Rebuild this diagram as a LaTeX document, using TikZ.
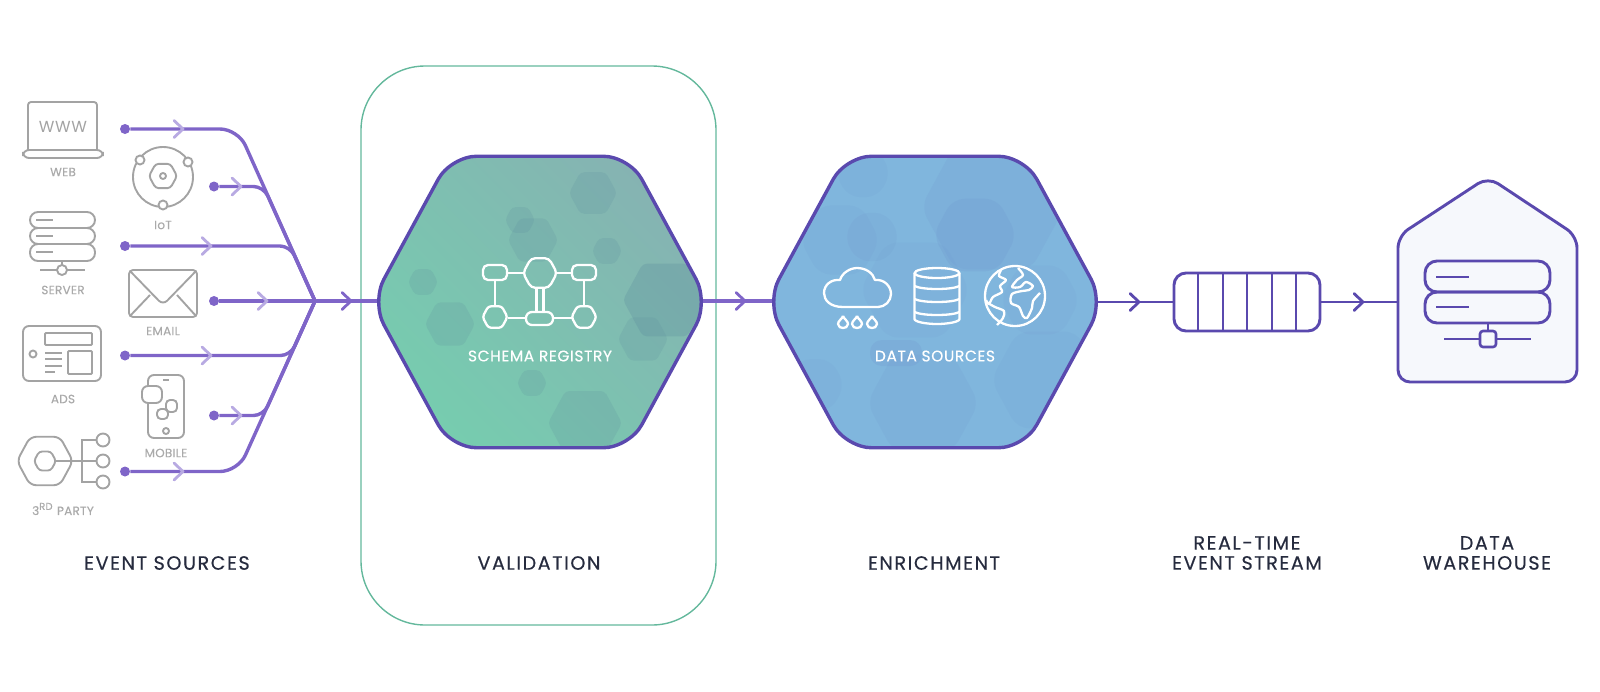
\documentclass[tikz,border=0pt]{standalone}
\usepackage{fontspec}
\setmainfont{Poppins}
\usetikzlibrary{positioning}
\definecolor{evline}{HTML}{7F65C8}
\definecolor{evtip}{HTML}{B8AAE2}
\definecolor{deep}{HTML}{5A49AE}
\definecolor{icon}{HTML}{A3A3A3}
\definecolor{icontxt}{HTML}{AAAAAA}
\definecolor{ink}{HTML}{262B3E}
\definecolor{frame}{HTML}{64B89C}
\definecolor{greenlo}{HTML}{76CDAF}
\definecolor{greenhi}{HTML}{86B2B2}
\definecolor{bluefill}{HTML}{80B6DD}
\definecolor{bluedark}{HTML}{6C8FCB}
\definecolor{greendark}{HTML}{5E8F9E}
\definecolor{housefill}{HTML}{F6F8FC}
\newcommand{\hexshape}[3]% center x, center y, half width
{({#1-#3},#2) -- ({#1-.53*#3},{#2-.865*#3}) -- ({#1+.53*#3},{#2-.865*#3}) --
({#1+#3},#2) -- ({#1+.53*#3},{#2+.865*#3}) -- ({#1-.53*#3},{#2+.865*#3}) -- cycle
}
\newcommand{\chevron}[3]% x, y, colour
{\draw[#3,line width=1.4pt,line cap=round,line join=round]
({#1-6},{#2-8.5}) -- ({#1+3},#2) -- ({#1-6},{#2+8.5});
}
\newcommand{\raindrop}[2]% x, y
{\draw[wline] (#1,{#2-6}) .. controls ({#1+1},{#2-3}) and ({#1+5},{#2-1}) .. ({#1+5},{#2+2})
.. controls ({#1+5},{#2+5}) and ({#1+2},{#2+6}) .. (#1,{#2+6})
.. controls ({#1-2},{#2+6}) and ({#1-5},{#2+5}) .. ({#1-5},{#2+2})
.. controls ({#1-5},{#2-1}) and ({#1-1},{#2-3}) .. (#1,{#2-6});
}

\begin{document}
\begin{tikzpicture}[x=.5pt,y=-.5pt]
\tikzstyle{dot}=[shape=circle,fill=evline,minimum size=5pt,inner sep=0pt]
\tikzstyle{evpath}=[evline,line width=1.7pt]
\tikzstyle{gline}=[icon,line width=.95pt,rounded corners=1.5pt]
\tikzstyle{wline}=[white,line width=1.15pt,line join=round]
\tikzstyle{dline}=[deep,line width=1.7pt]
\tikzstyle{linkline}=[deep,line width=1.45pt]
\tikzstyle{small}=[icontxt,font=\fontsize{6}{7}\selectfont\addfontfeature{LetterSpace=2,FakeBold=.3}]
\tikzstyle{inner}=[white,font=\fontsize{7.7}{9}\selectfont\addfontfeature{LetterSpace=4,FakeBold=.3}]
\tikzstyle{title}=[ink,align=center,font=\fontsize{9.6}{10}\selectfont\addfontfeature{LetterSpace=8,FakeBold=.35}]
\useasboundingbox (0,0) rectangle (1600,691);

% frame round the middle step
\draw[frame,line width=.7pt,rounded corners=32pt] (361,66) rectangle (716,625);

% junction and the lines into it
\coordinate (join) at (315,301);
\draw (125,129) node[dot] (web) {};
\draw (214,186.5) node[dot] (iot) {};
\draw (125,246) node[dot] (server) {};
\draw (214,301) node[dot] (email) {};
\draw (125,355.5) node[dot] (ads) {};
\draw (214,415.5) node[dot] (mobile) {};
\draw (125,471.5) node[dot] (party) {};
\coordinate (c1) at (238,129);
\coordinate (c2) at (263.5,186.5);
\coordinate (c3) at (290,246);
\coordinate (c5) at (290.5,355.5);
\coordinate (c6) at (263.5,415.5);
\coordinate (c7) at (238,471.5);
\draw[evpath,rounded corners=9pt] (web) -- (c1) -- (join);
\draw[evpath,rounded corners=5pt] (iot) -- (c2) -- (join);
\draw[evpath,rounded corners=5pt] (server) -- (c3) -- (join);
\draw[evpath] (email) -- (join);
\draw[evpath,rounded corners=5pt] (ads) -- (c5) -- (join);
\draw[evpath,rounded corners=5pt] (mobile) -- (c6) -- (join);
\draw[evpath,rounded corners=9pt] (party) -- (c7) -- (join);
\chevron{180}{129}{evtip}
\chevron{238}{186.5}{evtip}
\chevron{208}{246}{evtip}
\chevron{264}{301}{evtip}
\chevron{208}{355.5}{evtip}
\chevron{238}{415.5}{evtip}
\chevron{180}{471.5}{evtip}

% links between the steps
\coordinate (regwest) at (378,301);
\coordinate (regeast) at (703,301);
\coordinate (srcwest) at (773,301);
\coordinate (srceast) at (1097,302);
\coordinate (housewest) at (1398,302);
\draw[evpath] (join) -- (regwest);
\draw[evpath] (regeast) -- (srcwest);
\chevron{348}{301}{evline}
\chevron{742}{301}{evline}

% schema registry hexagon
\begin{scope}
\clip[rounded corners=13pt] \hexshape{540}{302}{168.5};
\shade[left color=greenlo,right color=greenhi,shading angle=135] (360,140) rectangle (720,460);
\begin{scope}[rounded corners=2pt]
\fill[greendark,opacity=.2] \hexshape{593}{193}{24};
\fill[greendark,opacity=.2] \hexshape{520}{220}{15};
\fill[greendark,opacity=.2] \hexshape{533}{240}{25};
\fill[greendark,opacity=.2] \hexshape{607}{251}{15};
\fill[greendark,opacity=.2] \hexshape{423}{282}{15};
\fill[greendark,opacity=.2] \hexshape{450}{324}{25};
\fill[greendark,opacity=.3] \hexshape{665}{300}{42};
\fill[greendark,opacity=.2] \hexshape{643}{339}{25};
\fill[greendark,opacity=.2] \hexshape{532}{383}{15};
\fill[greendark,opacity=.2] \hexshape{585}{423}{37};
\end{scope}
\end{scope}
\draw[dline,rounded corners=13pt] \hexshape{540}{302}{168.5};

% data sources hexagon
\begin{scope}
\clip[rounded corners=13pt] \hexshape{935}{302}{168.5};
\fill[bluefill] (760,140) rectangle (1110,460);
\begin{scope}[rounded corners=6pt]
\fill[bluedark,opacity=.1] \hexshape{863}{173}{28};
\fill[bluedark,opacity=.14] \hexshape{993}{207}{72};
\fill[bluedark,opacity=.18] \hexshape{975}{235}{42};
\fill[bluedark,opacity=.12] \hexshape{872}{237}{28};
\fill[bluedark,opacity=.1] \hexshape{840}{240}{40};
\fill[bluedark,opacity=.08] \hexshape{915}{290}{55};
\fill[bluedark,opacity=.08] \hexshape{1040}{300}{40};
\fill[bluedark,opacity=.2] (870,340) rectangle (922,366);
\fill[bluedark,opacity=.12] \hexshape{923}{403}{56};
\fill[bluedark,opacity=.1] \hexshape{1047}{380}{56};
\fill[bluedark,opacity=.08] \hexshape{815}{385}{30};
\end{scope}
\end{scope}
\draw[dline,rounded corners=13pt] \hexshape{935}{302}{168.5};

% schema icon
\draw[wline,rounded corners=2.5pt] (483,265) rectangle (507,280);
\draw[wline,rounded corners=2pt] \hexshape{540}{273}{17};
\draw[wline,rounded corners=2.5pt] (572,265) rectangle (596,280);
\draw[wline,rounded corners=1.5pt] \hexshape{495}{317}{12.5};
\draw[wline,rounded corners=3pt] (526,312) rectangle (553,325);
\draw[wline,rounded corners=1.5pt] \hexshape{584}{317}{12.5};
\draw[wline] (507,273) -- (523,273) (557,273) -- (572,273);
\draw[wline] (536.5,288) -- (536.5,312) (543.5,288) -- (543.5,312);
\draw[wline] (495,280) -- (495,306) (584,280) -- (584,306);
\draw[wline] (507.5,318) -- (526,318) (553,318) -- (571.5,318);
\node[inner] (registry) at (540,356) {SCHEMA REGISTRY};

% cloud, database, globe
\draw[wline] (843,307) .. controls (830,307) and (824,300) .. (824,293)
.. controls (824,285) and (831,279) .. (840,280)
.. controls (842,273) and (850,268) .. (857,268)
.. controls (866,268) and (873,273) .. (875,280)
.. controls (884,279) and (891,286) .. (891,294)
.. controls (891,301) and (885,307) .. (878,307) -- cycle;
\raindrop{843}{322}
\raindrop{857}{322}
\raindrop{872}{322}
\draw[wline] (937,273) ellipse (22.5 and 5);
\draw[wline] (914.5,273) -- (914.5,319) .. controls (914.5,322) and (927,324) .. (937,324)
.. controls (947,324) and (959.5,322) .. (959.5,319) -- (959.5,273);
\draw[wline] (914.5,286) .. controls (922,290) and (952,290) .. (959.5,286);
\draw[wline] (914.5,299) .. controls (922,303) and (952,303) .. (959.5,299);
\draw[wline] (914.5,312) .. controls (922,316) and (952,316) .. (959.5,312);
\draw[wline] (1015,296) circle (30);
\draw[wline] plot[smooth] coordinates {(1001,270) (999,276) (1006,280) (1000,286) (1002,292) (993,297) (989,304) (986,300)};
\draw[wline] plot[smooth] coordinates {(986,302) (995,307) (1004,311) (1003,318) (997,325)};
\draw[wline] plot[smooth] coordinates {(1018,268) (1023,275) (1017,280) (1012,287) (1020,287) (1026,282) (1033,286) (1029,290) (1022,291) (1012,294) (1011,303) (1019,307) (1023,316) (1027,318) (1032,308) (1033,301) (1040,293)};
\node[inner] (datasrc) at (935,356) {DATA SOURCES};

% stream
\node[draw=deep,line width=1.45pt,rounded corners=6pt,minimum width=73pt,minimum height=29pt,inner sep=0pt,fill=white] (queue) at (1247,302) {};
\draw[deep,line width=1pt] (1198,273) -- (1198,331) (1223,273) -- (1223,331) (1247,273) -- (1247,331) (1272,273) -- (1272,331) (1296,273) -- (1296,331);
\draw[linkline] (srceast) -- (queue);
\draw[linkline] (queue) -- (housewest);
\chevron{1136}{302}{deep}
\chevron{1360}{302}{deep}

% warehouse
\draw[linkline,fill=housefill,rounded corners=6pt] (1398,382) -- (1398,236) -- (1488,177) -- (1577,236) -- (1577,382) -- cycle;
\draw[linkline,rounded corners=6pt] (1425,261) rectangle (1550,292);
\draw[linkline,rounded corners=6pt] (1425,292) rectangle (1550,323);
\draw[deep,line width=1pt] (1436,277) -- (1469,277) (1436,307) -- (1469,307);
\draw[deep,line width=1.3pt] (1488,323) -- (1488,331) (1444,339) -- (1480,339) (1496,339) -- (1531,339);
\draw[deep,line width=1.3pt,rounded corners=1.5pt] (1480,331) rectangle (1496,347);

% web
\draw[gline] (28,150) -- (28,102) -- (97,102) -- (97,150);
\draw[gline,rounded corners=3pt] (23,150) rectangle (103,158);
\node[icon,font=\fontsize{8}{9}\selectfont\addfontfeature{LetterSpace=4}] (www) at (63,127) {WWW};
\node[small] (webl) at (63,172) {WEB};

% iot
\draw[gline] (163,177) circle (30);
\draw[gline,fill=white] (140,160) circle (4.5);
\draw[gline,fill=white] (188,162) circle (4.5);
\draw[gline,fill=white] (163,205) circle (4.5);
\draw[gline] \hexshape{163}{176}{14};
\draw[gline] (163,176) circle (3);
\node[small] (iotl) at (163,225) {IoT};

% server
\draw[gline,rounded corners=4pt] (30,212) rectangle (95,228);
\draw[gline,rounded corners=4pt] (30,228) rectangle (95,244);
\draw[gline,rounded corners=4pt] (30,244) rectangle (95,261);
\draw[gline] (36,220) -- (53,220) (36,236) -- (53,236) (36,252) -- (53,252);
\draw[gline] (62,261) -- (62,265) (40,270) -- (57,270) (67,270) -- (85,270);
\draw[gline] (62,270) circle (5);
\node[small] (serverl) at (63,290) {SERVER};

% email
\draw[gline,rounded corners=2pt] (129,270) rectangle (197,317);
\draw[gline,rounded corners=3pt] (130,271) -- (163,305) -- (196,271);
\draw[gline] (130,316) -- (150,295) (196,316) -- (177,295);
\node[small] (emaill) at (163,331) {EMAIL};

% ads
\draw[gline,rounded corners=3pt] (23,326) rectangle (101,381);
\draw[gline,rounded corners=.5pt] (45,333) rectangle (92,345);
\draw[gline,rounded corners=.5pt] (68,351) rectangle (92,374);
\draw[gline] (33,354) circle (3.5);
\draw[gline] (45,353) -- (62,353) (45,359) -- (62,359) (45,366) -- (62,366) (45,372) -- (55,372);
\node[small] (adsl) at (63,399) {ADS};

% mobile
\draw[gline,rounded corners=3pt] (148,375) rectangle (184,438);
\draw[gline] (163,380) -- (169,380);
\draw[gline] (166,431) circle (3);
\draw[gline,fill=white,rounded corners=3pt] (142,386) rectangle (162,403);
\draw[gline,fill=white,rounded corners=2pt] (166,400) rectangle (177,412);
\draw[gline,fill=white,rounded corners=2pt] (157,409) rectangle (168,419);
\node[small] (mobilel) at (166,453) {MOBILE};

% third party
\draw[gline,rounded corners=3pt] \hexshape{45}{461}{28};
\draw[gline,rounded corners=1.5pt] \hexshape{45}{461}{11};
\draw[gline,rounded corners=0pt] (56,461) -- (97,461) (97,440) -- (82,440) -- (82,482) -- (97,482);
\draw[gline] (103,440) circle (6.5);
\draw[gline] (103,461) circle (6.5);
\draw[gline] (103,482) circle (6.5);
\node[small] (partyl) at (63,509) {3\textsuperscript{RD} PARTY};

% titles
\node[title] (sources) at (167,563) {EVENT SOURCES};
\node[title] (validation) at (539,563) {VALIDATION};
\node[title] (enrich) at (934,563) {ENRICHMENT};
\node[title] (stream) at (1247,553) {REAL-TIME\\EVENT STREAM};
\node[title] (whouse) at (1487,553) {DATA\\WAREHOUSE};
\end{tikzpicture}
\end{document}
